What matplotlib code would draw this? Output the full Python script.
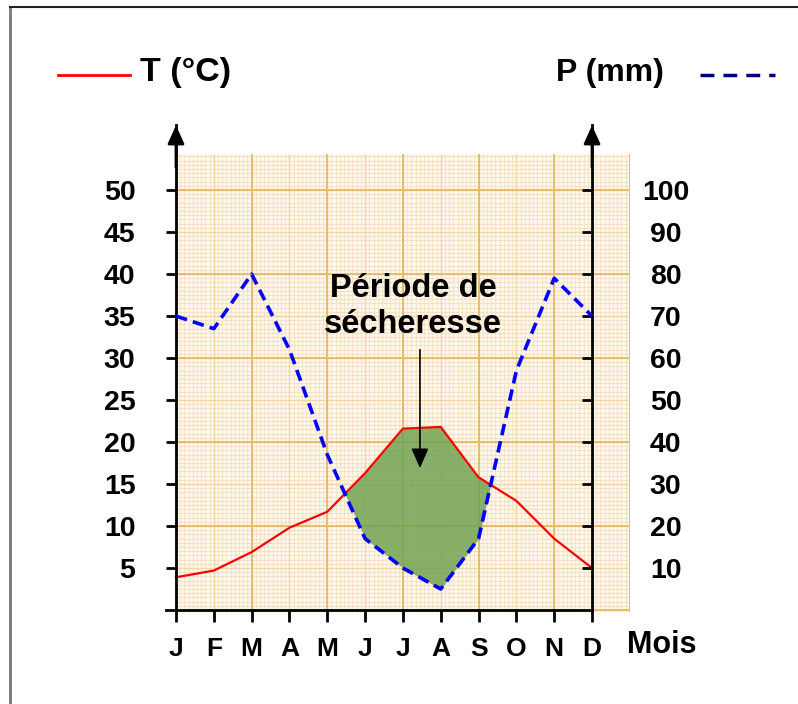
import numpy as np
import matplotlib
matplotlib.use('Agg')
import matplotlib.pyplot as plt
from matplotlib.lines import Line2D
from matplotlib.patches import Rectangle

# ---- data ----
months = ['J', 'F', 'M', 'A', 'M', 'J', 'J', 'A', 'S', 'O', 'N', 'D']
temperature = [3.9, 4.7, 6.9, 9.8, 11.7, 16.3, 21.6, 21.8, 15.8, 13.0, 8.5, 5.0]
precipitation = [70, 67, 80, 62, 37, 17, 10, 5, 17, 57, 79, 70]
t_ticks = [5, 10, 15, 20, 25, 30, 35, 40, 45, 50]
p_ticks = [10, 20, 30, 40, 50, 60, 70, 80, 90, 100]

plt.rcParams['font.family'] = ['Liberation Sans', 'DejaVu Sans']
plt.rcParams['font.weight'] = 'bold'

W, H = 798, 704
fig = plt.figure(figsize=(W / 100, H / 100), dpi=100)
ax = fig.add_axes([164.65 / W, (H - 613.4) / H, 465.2 / W, 488 / H])
ax.patch.set_visible(False)
x = np.arange(len(months))
T = np.array(temperature)
P = np.array(precipitation)
ymax = 57.7
ax.set_xlim(-0.3, 12)
ax.set_ylim(-0.4, ymax)

# ---- graph paper background ----
bx0, bx1, by0, by1 = 0, 12, -0.25, 54.3
ax.add_patch(Rectangle((bx0, by0), bx1 - bx0, by1 - by0, fc='#fefaf0', ec='none', zorder=0))
ax.vlines(np.arange(bx0, bx1 + 1e-6, 1 / 9), by0, by1, color='#f9e6c4', lw=0.8, zorder=0.2)
ax.hlines(np.arange(0, by1, 0.5), bx0, bx1, color='#f7e0c6', lw=0.8, zorder=0.2)
ax.vlines(np.arange(bx0, bx1 + 1e-6, 1), by0, by1, color='#f2d6a6', lw=1.0, zorder=0.3)
ax.hlines(np.arange(0, by1, 5), bx0, bx1, color='#f2d6a6', lw=1.0, zorder=0.3)
ax.vlines(np.arange(bx0, bx1 + 1e-6, 2), by0, by1, color='#e8bc6c', lw=1.4, zorder=0.4)
ax.hlines(np.arange(0, by1, 10), bx0, bx1, color='#e8bc6c', lw=1.4, zorder=0.4)

# ---- dry period fill ----
ax.fill_between(x, T, P / 2, where=T >= P / 2, interpolate=True,
                color='#6a9f4a', alpha=0.8, lw=0, zorder=2)
ax.plot(x, T, color='#ff0000', lw=1.6, zorder=3)

# ---- axes styling ----
for s in ['top', 'right']:
    ax.spines[s].set_visible(False)
ax.spines['left'].set_position(('data', 0))
ax.spines['left'].set_bounds(0, ymax)
ax.spines['bottom'].set_position(('data', 0))
ax.spines['bottom'].set_bounds(-0.26, 11)
for s in ['left', 'bottom']:
    ax.spines[s].set_linewidth(2)
    ax.spines[s].set_zorder(4)
ax.set_xticks(x, months)
ax.set_yticks(t_ticks)
ax.tick_params(axis='x', direction='out', length=8.6, width=2, pad=11, labelsize=19)
ax.tick_params(axis='y', direction='out', length=7.2, width=2, pad=22, labelsize=20.5)

ax2 = ax.twinx()
ax2.set_ylim(-0.8, 2 * ymax)
ax2.plot(x, P, color='#0000ff', lw=2.6, dashes=(3.2, 1.7), zorder=3)
for s in ['top', 'left', 'bottom']:
    ax2.spines[s].set_visible(False)
ax2.spines['right'].set_position(('data', 11))
ax2.spines['right'].set_bounds(0, 2 * ymax)
ax2.spines['right'].set_linewidth(2)
ax2.set_yticks(p_ticks)
ax2.tick_params(axis='y', direction='in', length=7.2, width=2, pad=53, labelsize=20.5)
plt.setp(ax2.get_yticklabels(), ha='center')

# axis arrows
arrow_style = dict(arrowstyle='-|>,head_length=0.55,head_width=0.25', mutation_scale=20,
                   color='black', lw=2, shrinkA=0, shrinkB=0)
ax.annotate('', xy=(0, ymax), xytext=(0, ymax - 5), arrowprops=arrow_style, zorder=5,
            annotation_clip=False)
ax.annotate('', xy=(11, ymax), xytext=(11, ymax - 5), arrowprops=arrow_style, zorder=5,
            annotation_clip=False)

# annotation
ax.text(6.27, 36.1, 'Période de\nsécheresse', ha='center', va='center', fontsize=23.5,
        fontweight='bold', linespacing=1.22, zorder=6)
ax.annotate('', xy=(6.45, 16.9), xytext=(6.45, 31),
            arrowprops=dict(arrowstyle='-|>,head_length=0.8,head_width=0.35', mutation_scale=15,
                            color='black', lw=1.2, shrinkA=0, shrinkB=0), zorder=6)

# ---- legend & labels ----
ly = 1 - 75 / H
fig.add_artist(Line2D([58 / W, 130 / W], [ly, ly], color='#ff0000', lw=2))
fig.text(140 / W, 1 - 73 / H, 'T (°C)', fontsize=24.5, fontweight='bold', va='center', ha='left')
fig.text(556 / W, 1 - 73 / H, 'P (mm)', fontsize=23, fontweight='bold', va='center', ha='left')
fig.add_artist(Line2D([700 / W, 775 / W], [ly, ly], color='#000080', lw=2.5, dashes=(4, 2.6)))
fig.text(627 / W, 1 - 645 / H, 'Mois', fontsize=22, fontweight='bold', va='center', ha='left')

# frame
fig.add_artist(Line2D([10 / W, 10 / W], [0, 1 - 7 / H], color='#777777', lw=2))
fig.add_artist(Line2D([10 / W, 1], [1 - 7 / H, 1 - 7 / H], color='#222222', lw=1.5))

fig.savefig('out.png', dpi=100)
